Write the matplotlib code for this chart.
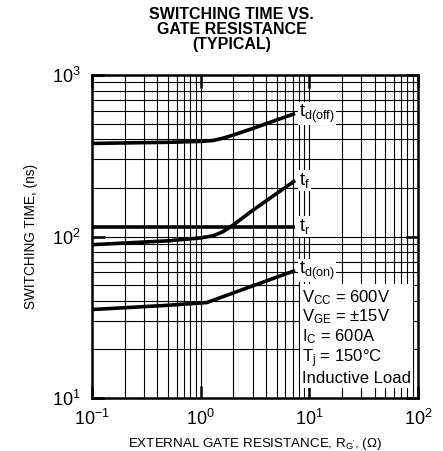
import matplotlib.pyplot as plt
import numpy as np

plt.rcParams['font.family'] = ['Liberation Sans', 'DejaVu Sans']
plt.rcParams['mathtext.fontset'] = 'custom'
plt.rcParams['mathtext.rm'] = 'Liberation Sans'
plt.rcParams['mathtext.it'] = 'Liberation Sans'
plt.rcParams['mathtext.default'] = 'rm'

# gate resistance (ohm) and switching times (ns)
rg_doff = [0.1, 0.5, 1.0, 1.3, 1.6, 2.0, 3.0, 7.4]
t_doff = [377, 383, 388, 393, 406, 425, 466, 578]

rg_f = [0.1, 0.5, 1.0, 1.3, 1.6, 2.0, 3.0, 7.4]
t_f = [89, 94, 98, 101, 107, 118, 145, 222]

rg_r = [0.1, 7.4]
t_r = [115, 115]

rg_don = [0.1, 0.5, 1.14, 3.0, 7.4]
t_don = [35.3, 37.5, 39, 49.4, 61.6]

labels = ['$t_{d(off)}$', '$t_f$', '$t_r$', '$t_{d(on)}$']
conditions = ['$V_{CC}$ = 600V', '$V_{GE}$ = \u00b115V', '$I_C$ = 600A',
              '$T_j$ = 150\u00b0C', 'Inductive Load']

fig = plt.figure(figsize=(4.43, 4.51), dpi=100)
ax = fig.add_axes([92 / 443, 1 - 398 / 451, 326 / 443, 323 / 451])

ax.set_xscale('log')
ax.set_yscale('log')
ax.set_xlim(0.1, 100)
ax.set_ylim(10, 1000)

ax.grid(which='both', color='black', linewidth=0.8)
ax.set_axisbelow(True)

series = [(rg_doff, t_doff), (rg_f, t_f), (rg_r, t_r), (rg_don, t_don)]
for (x, y), lab in zip(series, labels):
    ax.plot(x, y, color='black', linewidth=2.6, solid_capstyle='butt')
    ax.text(x[-1] * 1.09, y[-1], lab, fontsize=13, ha='left', va='center',
            bbox=dict(facecolor='white', edgecolor='none', pad=0.5))

ax.text(8.6, 48, '\n'.join(conditions), fontsize=12, ha='left', va='top',
        linespacing=1.08,
        bbox=dict(facecolor='white', edgecolor='none', pad=1.5))

for s in ax.spines.values():
    s.set_linewidth(1.8)
ax.tick_params(which='major', direction='in', length=9, width=1.8,
               top=True, right=True, labelsize=13, pad=8)
ax.tick_params(which='minor', length=0)

ax.set_xlabel("EXTERNAL GATE RESISTANCE, R$_{G'}$, (\u03a9)", fontsize=9.6, labelpad=5)
ax.set_ylabel('SWITCHING TIME, (ns)', fontsize=9.8, labelpad=10)

fig.text(0.523, 0.985, 'SWITCHING TIME VS.\nGATE RESISTANCE\n(TYPICAL)',
         ha='center', va='top', fontsize=11.5, fontweight='bold', linespacing=1.0)

fig.savefig('out.png', dpi=100)
